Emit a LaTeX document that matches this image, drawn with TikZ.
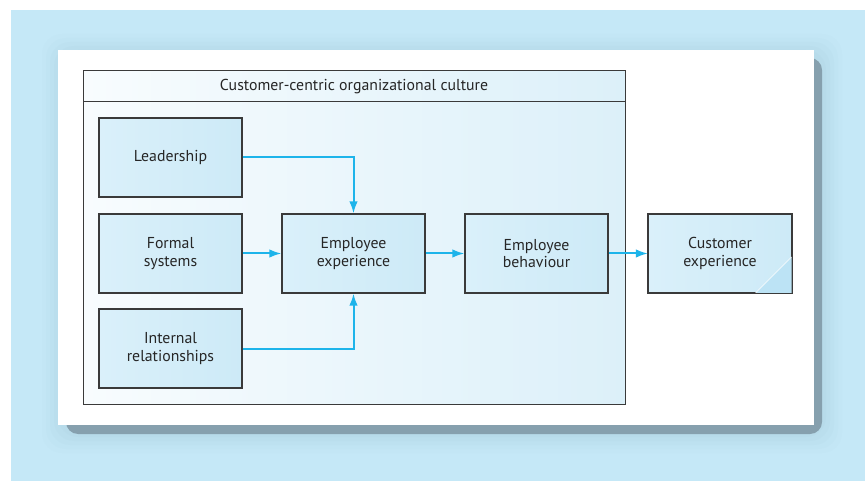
\documentclass[tikz,border=0pt]{standalone}
\usepackage{fontspec}
\setmainfont{PT Sans}
\usetikzlibrary{arrows.meta}
\definecolor{bgblue}{HTML}{C5E8F7}
\definecolor{shadowc}{HTML}{86A0AE}
\definecolor{glowc}{HTML}{9FC4D6}
\definecolor{boxlight}{HTML}{DAF0FA}
\definecolor{boxdark}{HTML}{CDEAF7}
\definecolor{cornerc}{HTML}{BCE3F5}
\definecolor{cultlight}{HTML}{F8FCFE}
\definecolor{cultdark}{HTML}{DCF0F9}
\definecolor{arrowc}{HTML}{1DB4EA}
\definecolor{edgec}{HTML}{3A3A3A}
\definecolor{textc}{HTML}{262626}
\tikzset{
  txt/.style={font=\fontsize{15.8}{17.5}\selectfont, text=textc},
  stepbox/.style={draw=edgec, line width=1.2pt, left color=boxlight, right color=boxdark,
    minimum width=143pt, minimum height=79pt, align=center, txt, inner sep=0pt},
  bigbox/.style={draw=edgec, line width=1pt, left color=cultlight, right color=cultdark, inner sep=0pt},
  flow/.style={draw=arrowc, line width=2pt, -{Latex[length=12pt,width=8.5pt]}}
}
\begin{document}
\begin{tikzpicture}[x=1pt,y=-1pt]
\useasboundingbox (0,0) rectangle (865,481);
\fill[white] (0,0) rectangle (865,481);
\fill[bgblue] (11,10) rectangle (865,481);
% soft glow
\foreach \d/\o in {24/0.05,20/0.06,16/0.07,12/0.08,8/0.09}{
  \fill[glowc, opacity=\o, rounded corners=20pt] (58-\d+8,50-\d+8) rectangle (814+\d+4,425+\d+4);
}
% shadow
\fill[shadowc, rounded corners=12pt] (66,58) rectangle (822,434);
% panel
\fill[white] (58,50) rectangle (814,425);
% culture box
\node[bigbox, minimum width=542pt, minimum height=333pt] (culture) at (354,237.5) {};
\node[bigbox, minimum width=542pt, minimum height=31pt, anchor=north, txt] (title) at (culture.north) {Customer-centric organizational culture};
% boxes
\node[stepbox] (lead) at (170.5,157.5) {Leadership};
\node[stepbox] (formal) at (170.5,253.5) {Formal\\systems};
\node[stepbox] (internal) at (170.5,348.5) {Internal\\relationships};
\node[stepbox] (empexp) at (353.5,253.5) {Employee\\experience};
\node[stepbox] (empbeh) at (536.5,253.5) {Employee\\behaviour};
\node[stepbox] (custexp) at (720,253.5) {Customer\\experience};
\fill[cornerc] ([xshift=-0.6pt,yshift=0.6pt]custexp.south east) -- ++(0,-36) -- ++(-36,36) -- cycle;
\draw[white, line width=0.4pt] ([xshift=-36.6pt,yshift=0.6pt]custexp.south east) -- ([xshift=-0.6pt,yshift=36.6pt]custexp.south east);
\draw[edgec, line width=1.2pt] (custexp.south west) rectangle (custexp.north east);
% arrows
\draw[flow] (lead.east) -| (empexp.north);
\draw[flow] (formal.east) -- (empexp.west);
\draw[flow] (internal.east) -| (empexp.south);
\draw[flow] (empexp.east) -- (empbeh.west);
\draw[flow] (empbeh.east) -- (custexp.west);
\end{tikzpicture}
\end{document}
